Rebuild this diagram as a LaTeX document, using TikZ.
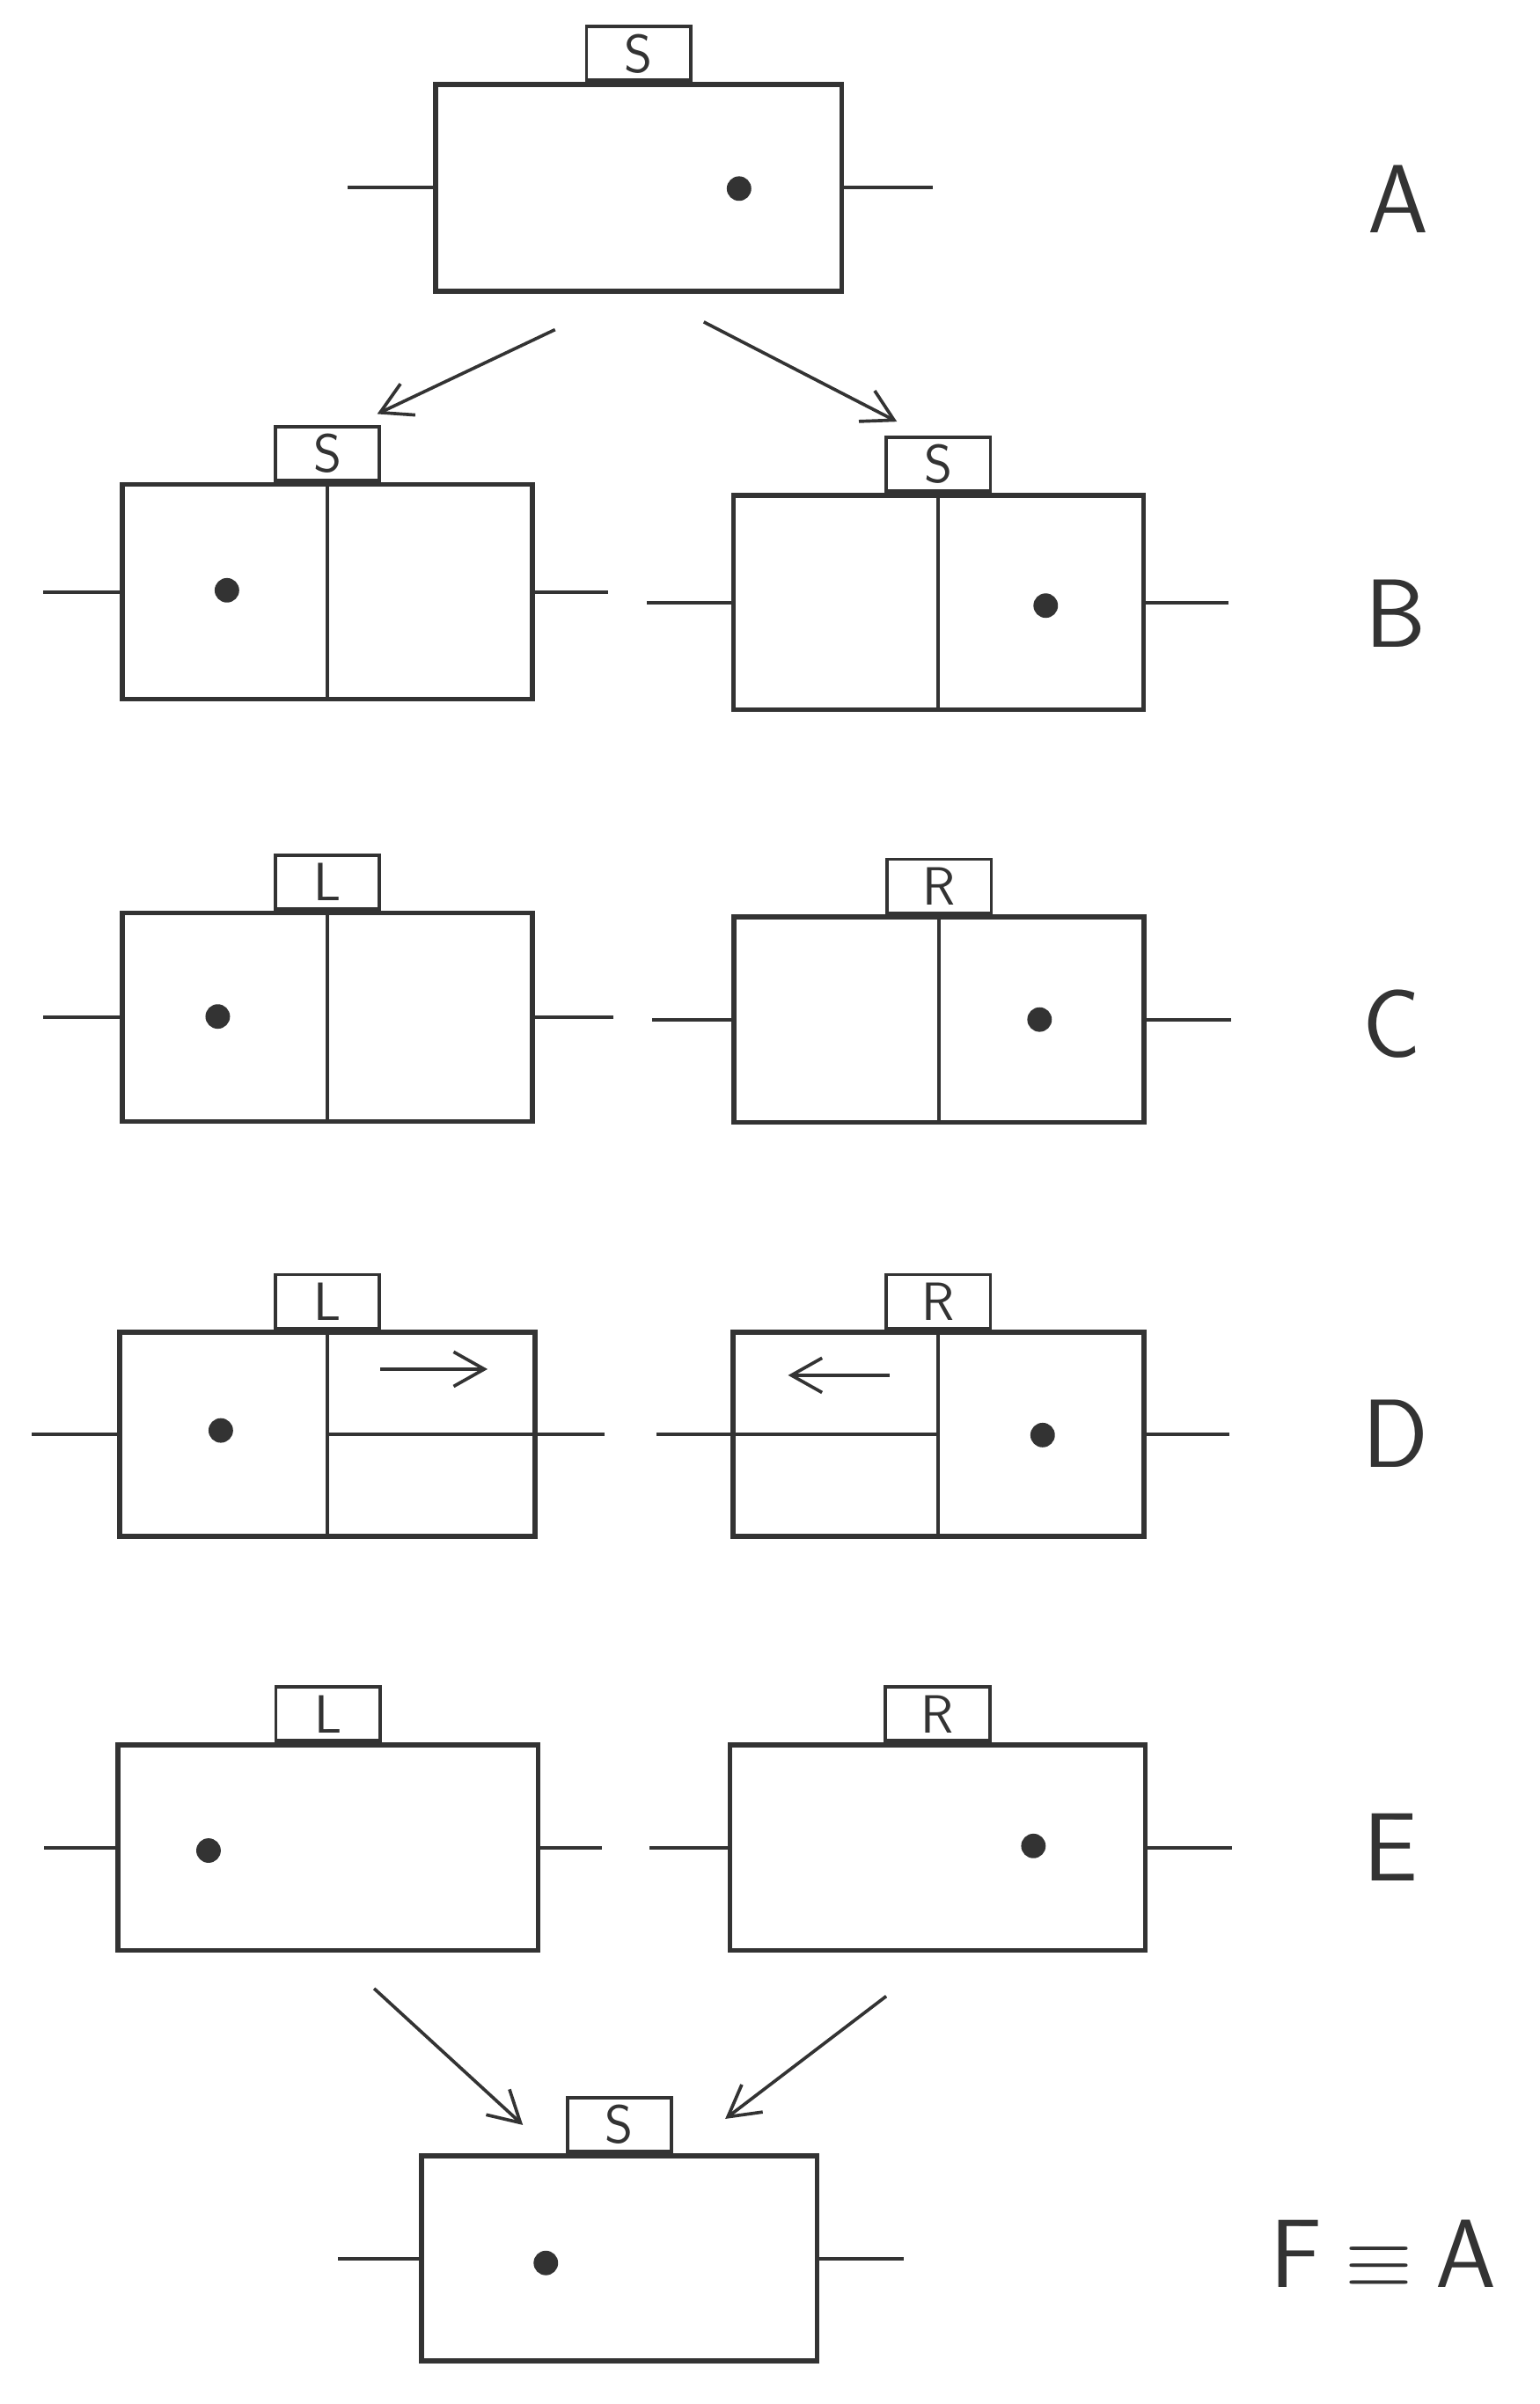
\documentclass[tikz,border=0pt]{standalone}
\usetikzlibrary{positioning,arrows.meta}

\definecolor{pen}{HTML}{333333}
\tikzset{cell/.style={draw=pen,line width=1.8pt,minimum width=5.35cm,minimum height=2.72cm,inner sep=0pt}}
\tikzset{tab/.style={draw=pen,line width=1.2pt,minimum width=1.36cm,minimum height=0.70cm,inner sep=0pt,font=\fontsize{20}{22}\sffamily,text=pen}}
\tikzset{dot/.style={circle,fill=pen,inner sep=0pt,minimum size=0.32cm}}
\tikzset{stub/.style={draw=pen,line width=1.3pt}}
\tikzset{mv/.style={draw=pen,line width=1.2pt,-{Straight Barb[length=4mm,width=4.5mm]}}}
\tikzset{row/.style={font=\fontsize{36}{40}\sffamily,text=pen}}

\begin{document}
\begin{tikzpicture}[x=0.02cm,y=-0.02cm]
  \useasboundingbox (0,0) rectangle (1004,1568);
  % A
  \node [cell,minimum width=5.3cm,minimum height=2.7cm] (a) at (416.5,122.5) {};
  \node [tab,above=0pt of a.north] (ta) {S};
  \node [dot] (pa) at (482,123) {};
  \draw [stub] (a.west) -- ++(-56,0) (a.east) -- ++(58,0);
  \node [row] (la) at (912,130) {A};
  \coordinate (ab1) at (362,215); \coordinate (ab2) at (246,270);
  \coordinate (ab3) at (459,210); \coordinate (ab4) at (585,275);
  \draw [mv] (ab1) -- (ab2);
  \draw [mv] (ab3) -- (ab4);

  % B
  \node [cell,minimum height=2.8cm] (b1) at (213.5,386) {};
  \node [cell,minimum height=2.8cm] (b2) at (612,393) {};
  \node [tab,above=0pt of b1.north] (tb1) {S};
  \node [tab,above=0pt of b2.north] (tb2) {S};
  \draw [stub] (b1.north) -- (b1.south) (b2.north) -- (b2.south);
  \node [dot] (pb1) at (148,385) {};
  \node [dot] (pb2) at (682,395) {};
  \draw [stub] (b1.west) -- ++(-50,0) (b1.east) -- ++(48,0);
  \draw [stub] (b2.west) -- ++(-55,0) (b2.east) -- ++(54,0);
  \node [row] (lb) at (910,400) {B};

  % C
  \node [cell] (c1) at (213.5,663.5) {};
  \node [cell,minimum height=2.68cm] (c2) at (612.5,665) {};
  \node [tab,above=0pt of c1.north] (tc1) {L};
  \node [tab,above=0pt of c2.north] (tc2) {R};
  \draw [stub] (c1.north) -- (c1.south) (c2.north) -- (c2.south);
  \node [dot] (pc1) at (142,663) {};
  \node [dot] (pc2) at (678,665) {};
  \draw [stub] (c1.west) -- ++(-50,0) (c1.east) -- ++(51,0);
  \draw [stub] (c2.west) -- ++(-52,0) (c2.east) -- ++(55,0);
  \node [row] (lc) at (908,668) {C};

  % D
  \node [cell,minimum width=5.42cm,minimum height=2.66cm] (d1) at (213.5,935.5) {};
  \node [cell,minimum width=5.36cm,minimum height=2.66cm] (d2) at (612,935.5) {};
  \node [tab,above=0pt of d1.north] (td1) {L};
  \node [tab,above=0pt of d2.north] (td2) {R};
  \draw [stub] (d1.north) -- (d1.south) (d2.north) -- (d2.south);
  \node [dot] (pd1) at (144,933) {};
  \node [dot] (pd2) at (680,936) {};
  \draw [stub] (d1.west) -- ++(-56,0);
  \draw [stub] (d1.center) -- ++(181,0);
  \draw [stub] (d2.center) -- ++(-184,0);
  \draw [stub] (d2.east) -- ++(54,0);
  \coordinate (dm1) at (248,893); \coordinate (dm2) at (318,893);
  \coordinate (dm3) at (580,897); \coordinate (dm4) at (514,897);
  \draw [mv] (dm1) -- (dm2);
  \draw [mv] (dm3) -- (dm4);
  \node [row] (ld) at (910,935) {D};

  % E
  \node [cell,minimum width=5.48cm,minimum height=2.68cm] (e1) at (214,1205) {};
  \node [cell,minimum width=5.42cm,minimum height=2.68cm] (e2) at (611.5,1205) {};
  \node [tab,above=0pt of e1.north] (te1) {L};
  \node [tab,above=0pt of e2.north] (te2) {R};
  \node [dot] (pe1) at (136,1207) {};
  \node [dot] (pe2) at (674,1204) {};
  \draw [stub] (e1.west) -- ++(-47,0) (e1.east) -- ++(40,0);
  \draw [stub] (e2.west) -- ++(-51,0) (e2.east) -- ++(55,0);
  \node [row] (le) at (907,1205) {E};
  \coordinate (ef1) at (244,1297); \coordinate (ef2) at (341,1386);
  \coordinate (ef3) at (578,1302); \coordinate (ef4) at (473,1382);
  \draw [mv] (ef1) -- (ef2);
  \draw [mv] (ef3) -- (ef4);

  % F
  \node [cell,minimum width=5.16cm,minimum height=2.68cm] (f) at (404,1473) {};
  \node [tab,above=0pt of f.north] (tf) {S};
  \node [dot] (pf) at (356,1476) {};
  \draw [stub] (f.west) -- ++(-53,0) (f.east) -- ++(55,0);
  \node [row] (lf) at (902,1470) {F\hspace{0.3cm}\scalebox{1.3}{$\equiv$}\hspace{0.3cm}A};
\end{tikzpicture}
\end{document}
